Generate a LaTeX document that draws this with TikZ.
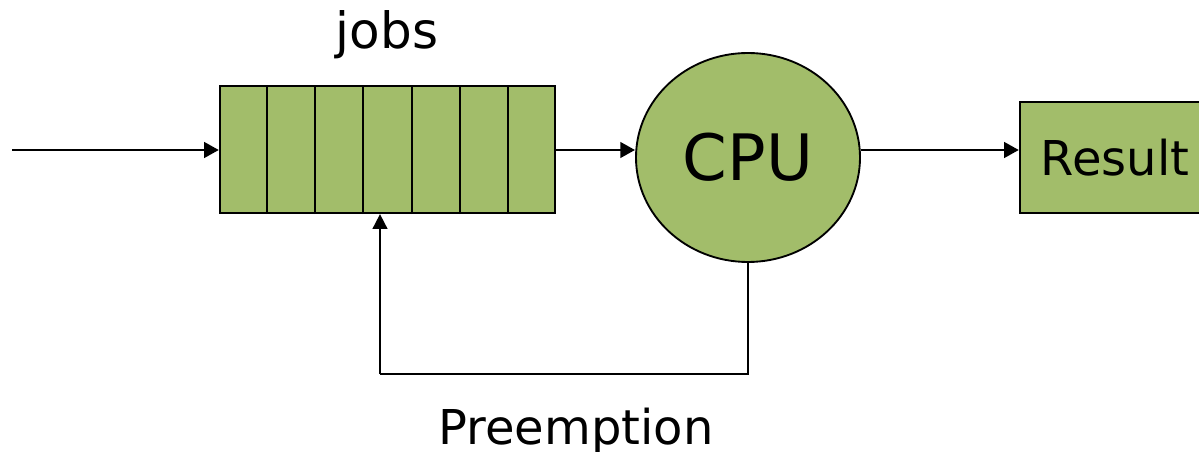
\documentclass[tikz,border=0pt]{standalone}
\usepackage{fontspec}
\setmainfont{DejaVu Sans}
\usetikzlibrary{arrows.meta,calc,shapes.geometric}
\definecolor{leaf}{HTML}{A2BD6A}
\tikzset{
  flow/.style={line width=2.2pt,-{Triangle[length=11pt,width=11.5pt]}},
  thin link/.style={line width=1.4pt},
  box/.style={draw,line width=1.7pt,fill=leaf,rectangle,inner sep=0pt},
  label text/.style={font=\fontsize{36}{40}\selectfont,inner sep=0pt,anchor=base},
}
\begin{document}
\begin{tikzpicture}[x=0.75pt,y=-0.75pt]
\useasboundingbox (0,0) rectangle (1199,452);

% job queue with seven slots
\node[box,minimum width=251.25pt,minimum height=95.25pt] (q) at (387.5,149.5) {};
\foreach \i in {1,...,6}
  \draw[line width=1.4pt] ($(q.south west)!\i/7!(q.south east)$) -- ($(q.north west)!\i/7!(q.north east)$);

% processor
\node[draw,line width=1.4pt,fill=leaf,ellipse,inner sep=0pt,
      minimum width=168pt,minimum height=156.75pt,
      font=\fontsize{48}{52}\selectfont] (cpu) at (748,157.5) {CPU};

% output box, running off the right edge
\node[box,minimum width=142.5pt,minimum height=83.25pt,
      font=\fontsize{36}{40}\selectfont] (res) at (1115,157.5) {Result};

% labels
\node[label text,font=\fontsize{37.5}{42}\selectfont] (jobs) at (387,49) {jobs};
\node[label text] (pre) at (576,444) {Preemption};

% connectors
\coordinate (in) at (12,150);
\coordinate (fb) at (380,374);
\draw[flow] (in) -- (in -| q.west);
\draw[flow] (q.east |- in) -- (in -| cpu.west);
\draw[flow] (in -| cpu.east) -- (in -| res.west);
\draw[thin link] (cpu.south) |- (fb);
\draw[thin link,-{Triangle[length=11pt,width=11pt]}] (fb) -- (fb |- q.south);
\end{tikzpicture}
\end{document}
